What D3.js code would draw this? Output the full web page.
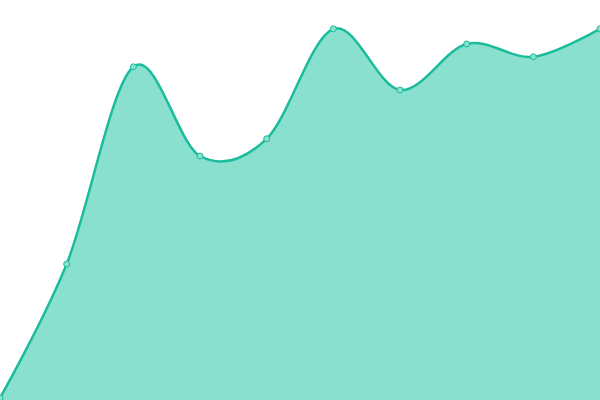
<!DOCTYPE html>
<html>
<head>
<meta charset="utf-8">
<script src="https://cdn.jsdelivr.net/npm/d3@7"></script>
<style>
  body { margin: 0; background: #fff; }
  svg { display: block; }
</style>
</head>
<body>
<div id="chart"></div>
<script>
// values
let xs = [0, 1, 2, 3, 4, 5, 6, 7, 8, 9];
let values = [0.5, 34, 83.3, 61, 65.3, 92.8, 77.5, 89, 85.8, 92.8];

let width = 600,
    height = 400;

let svg = d3.select("#chart")
    .append("svg")
    .attr("width", width)
    .attr("height", height);

let xScale = d3.scaleLinear()
    .domain([0, 9])
    .range([0, width]);

let yScale = d3.scaleLinear()
    .domain([0, 100])
    .range([height, 0]);

let area = d3.area()
    .x((d, i) => xScale(xs[i]))
    .y0(height)
    .y1(d => yScale(d))
    .curve(d3.curveCardinal);

let line = d3.line()
    .x((d, i) => xScale(xs[i]))
    .y(d => yScale(d))
    .curve(d3.curveCardinal);

svg.append("path")
    .datum(values)
    .attr("d", area)
    .attr("fill", "#8ae0cf");

svg.append("path")
    .datum(values)
    .attr("d", line)
    .attr("fill", "none")
    .attr("stroke", "#1abc9c")
    .attr("stroke-width", 2.5);

svg.selectAll("circle")
    .data(values)
    .enter()
    .append("circle")
    .attr("cx", (d, i) => xScale(xs[i]))
    .attr("cy", d => yScale(d))
    .attr("r", 3)
    .attr("fill", "#8ae0cf")
    .attr("stroke", "#1abc9c")
    .attr("stroke-width", 1);
</script>
</body>
</html>
